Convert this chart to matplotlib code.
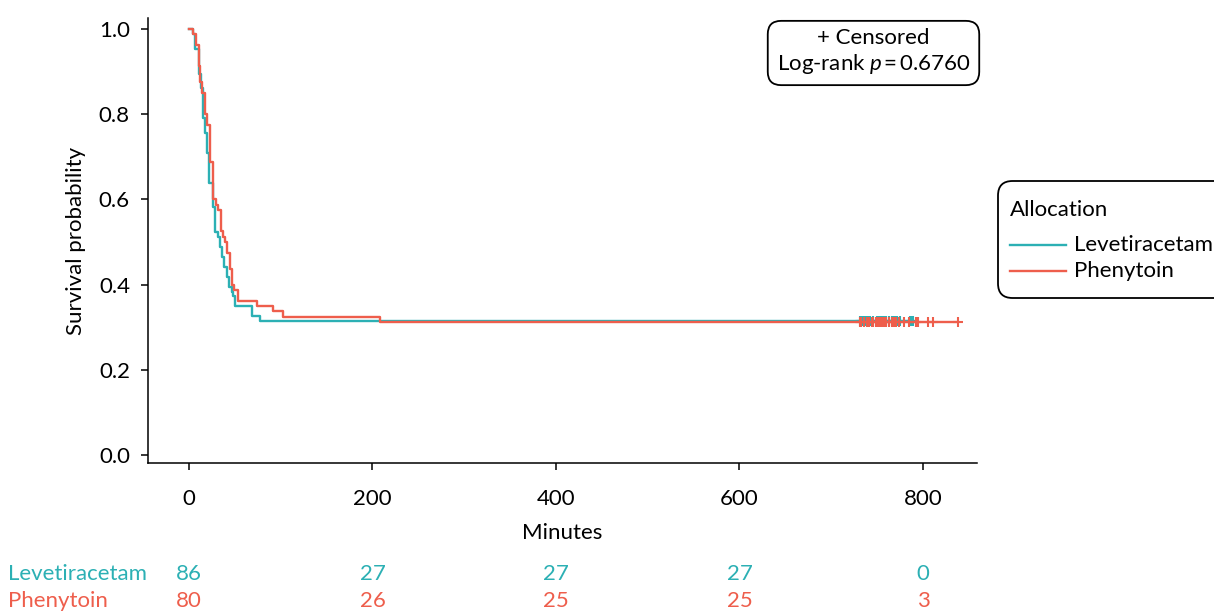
import matplotlib
matplotlib.use("Agg")
import matplotlib.pyplot as plt
from matplotlib.patches import FancyBboxPatch
from matplotlib.lines import Line2D
import numpy as np

plt.rcParams['font.family'] = ['Lato', 'DejaVu Sans']
plt.rcParams['mathtext.fontset'] = 'custom'
plt.rcParams['mathtext.rm'] = 'Lato'
plt.rcParams['mathtext.it'] = 'Lato:italic'

# ---- data ----
groups = ["Levetiracetam", "Phenytoin"]
colors = ["#2CB0B4", "#EE5E4C"]
n_start = [86, 80]

lev_times = [0, 4.7, 6.5, 11.2, 13, 15.6, 17.4, 19.3, 22.1, 26.5, 28.3, 31.9, 33.8,
             36.3, 38.5, 41.1, 43.9, 46.5, 48.3, 50.1, 68.3, 77.4]
lev_alive = [86, 85, 82, 77, 74, 68, 65, 61, 55, 50, 45, 44, 42,
             40, 38, 36, 34, 33, 32, 30, 28, 27]
lev_censor = [731, 733, 734, 735, 737, 738, 740, 742, 745, 750, 751, 752, 753, 754,
              755, 757, 760, 763, 766, 768, 770, 771, 772, 775, 786, 788, 789]

phe_times = [0, 4.7, 7.6, 10.9, 12, 13.8, 17.4, 19.9, 22.9, 26.5, 29.4, 31.9, 34.6,
             37.4, 39.2, 41.1, 44.7, 47.2, 49, 53.7, 73.8, 91.2, 102.8, 208]
phe_alive = [80, 79, 77, 73, 70, 68, 64, 62, 55, 48, 47, 46, 42,
             41, 40, 38, 35, 32, 31, 29, 28, 27, 26, 25]
phe_censor = [731, 732, 736, 739, 741, 744, 746, 749, 751, 753, 755, 757, 760, 763,
              766, 768, 771, 774, 779, 785, 792, 795, 806, 811, 838]

risk_times = [0, 200, 400, 600, 800]
lev_risk = [86, 27, 27, 27, 0]
phe_risk = [80, 26, 25, 25, 3]

x_ticks = [0, 200, 400, 600, 800]
y_ticks = [0.0, 0.2, 0.4, 0.6, 0.8, 1.0]
p_value = "0.6760"

FS = 16

# ---- figure ----
W, H = 1214, 614
fig = plt.figure(figsize=(W / 100, H / 100), dpi=100)
ax = fig.add_axes([148 / W, 1 - 463 / H, (977 - 148) / W, (463 - 18) / H])

series = [(lev_times, lev_alive, lev_censor), (phe_times, phe_alive, phe_censor)]
for (t, a, c), col, n, name in zip(series, colors, n_start, groups):
    s = np.array(a, dtype=float) / n
    tt = list(t) + [max(c)]
    ss = list(s) + [s[-1]]
    ax.step(tt, ss, where='post', color=col, lw=1.7, label=name)
    ax.plot(c, [s[-1]] * len(c), ls='none', marker='+', ms=7, mew=1.5, color=col)

ax.set_xlim(-44.7, 858.9)
ax.set_ylim(-0.019, 1.026)
ax.set_xticks(x_ticks)
ax.set_yticks(y_ticks)
ax.set_yticklabels([f"{v:.1f}" for v in y_ticks])
for sp in ['top', 'right']:
    ax.spines[sp].set_visible(False)
for sp in ['left', 'bottom']:
    ax.spines[sp].set_linewidth(1.1)
ax.tick_params(axis='both', labelsize=FS, length=5, width=1.1, colors='black')
ax.tick_params(axis='x', pad=14)
ax.tick_params(axis='y', pad=8)
ax.set_xlabel("Minutes", fontsize=FS, labelpad=10)
ax.set_ylabel("Survival probability", fontsize=FS, labelpad=9)

# annotation box
fig.text(873.5 / W, 1 - 52 / H, "+ Censored\nLog-rank $p$\u2009=\u2009" + p_value,
         ha='center', va='center', fontsize=FS, multialignment='center', linespacing=1.25,
         bbox=dict(boxstyle='round,pad=0.4,rounding_size=0.6', fc='white', ec='black', lw=1.3))

# legend (drawn manually, clipped by the figure edge like the reference)
px = lambda x: x / W
py = lambda y: 1 - y / H
frame = FancyBboxPatch((px(998), py(298)), px(1260) - px(998), py(181) - py(298),
                       boxstyle='round,pad=0,rounding_size=0.012', transform=fig.transFigure,
                       fc='white', ec='black', lw=1.3, mutation_aspect=W / H)
fig.add_artist(frame)
fig.text(px(1010), py(210), "Allocation", fontsize=FS, ha='left', va='center')
for yy, name, col in zip([245, 271], groups, colors):
    fig.add_artist(Line2D([px(1010), px(1066)], [py(yy), py(yy)], color=col, lw=1.7,
                          transform=fig.transFigure))
    fig.text(px(1074), py(yy), name, fontsize=FS, ha='left', va='center')

# risk table
fig.canvas.draw()
x_to_fig = lambda t: ax.transData.transform((t, 0))[0] / W
for row_y, name, col, vals in [(py(574), groups[0], colors[0], lev_risk),
                               (py(601), groups[1], colors[1], phe_risk)]:
    fig.text(px(8), row_y, name, color=col, fontsize=FS, ha='left', va='center')
    for t, v in zip(risk_times, vals):
        fig.text(x_to_fig(t), row_y, str(v), color=col, fontsize=FS, ha='center', va='center')

fig.savefig("out.png", dpi=100)
